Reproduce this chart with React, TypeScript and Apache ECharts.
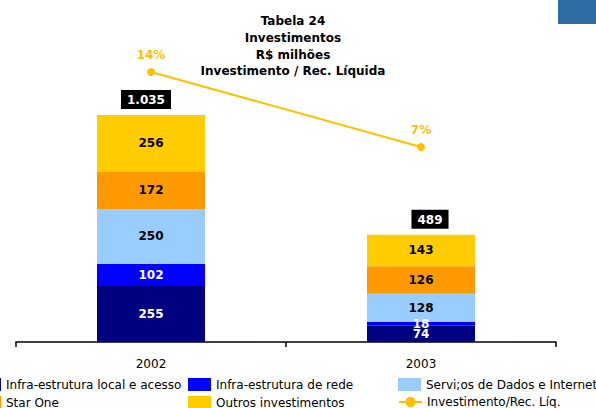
import React, { useEffect, useRef } from "react";
import * as echarts from "echarts";

const categories = ["2002", "2003"];
const infraLocal = [255, 74];
const infraRede = [102, 18];
const servicos = [250, 128];
const starOne = [172, 126];
const outros = [256, 143];
const totalLabels = ["1.035", "489"];
const ratio = [14, 7];

const FONT = "DejaVu Sans";

export default function App() {
  const ref = useRef<HTMLDivElement>(null);
  useEffect(() => {
    if (!ref.current) return;
    const chart = echarts.init(ref.current, null, { renderer: "svg" });
    const segLabel = (color: string) => ({
      show: true,
      position: "inside" as const,
      color,
      fontFamily: FONT,
      fontSize: 12,
      fontWeight: "bold" as const,
    });
    const barBase = {
      type: "bar" as const,
      stack: "inv",
      barWidth: 108,
      yAxisIndex: 0,
    };
    const legendItem = (name: string, left: number, top: number) => ({
      left,
      top,
      padding: 0,
      itemWidth: 23,
      itemHeight: 13,
      textStyle: { fontFamily: FONT, fontSize: 12, color: "#000" },
      data: [name],
    });
    chart.setOption({
      animation: false,
      textStyle: { fontFamily: FONT },
      title: {
        text: "Tabela 24\nInvestimentos\nR$ milhões\nInvestimento / Rec. Líquida",
        left: 288,
        top: 8,
        textAlign: "center",
        textStyle: {
          fontFamily: FONT,
          fontSize: 12,
          fontWeight: "bold",
          color: "#000",
          lineHeight: 16.7,
        },
      },
      graphic: [
        {
          type: "rect",
          shape: { x: 558, y: 0, width: 38, height: 24 },
          style: { fill: "#2E6DA4" },
        },
      ],
      grid: { left: 16, right: 40, top: 35, bottom: 66 },
      xAxis: {
        type: "category",
        data: categories,
        axisLine: { lineStyle: { color: "#000", width: 1.5 } },
        axisTick: { show: true, length: 5, lineStyle: { color: "#000", width: 1.5 } },
        axisLabel: { color: "#000", fontFamily: FONT, fontSize: 12, margin: 16 },
      },
      yAxis: [
        { type: "value", min: 0, max: 1400, show: false, splitLine: { show: false } },
        { type: "value", min: -11.2, max: 17.45, show: false, splitLine: { show: false } },
      ],
      legend: [
        { ...legendItem("Infra-estrutura local e acesso", -22, 378), icon: "rect" },
        { ...legendItem("Star One", -22, 396), icon: "rect" },
        { ...legendItem("Infra-estrutura de rede", 188, 378), icon: "rect" },
        { ...legendItem("Outros investimentos", 188, 396), icon: "rect" },
        { ...legendItem("Servi;os de Dados e Internet", 398, 378), icon: "rect" },
        legendItem("Investimento/Rec. Líq.", 398, 396),
      ],
      series: [
        {
          ...barBase,
          name: "Infra-estrutura local e acesso",
          data: infraLocal,
          itemStyle: { color: "#000080" },
          label: segLabel("#fff"),
        },
        {
          ...barBase,
          name: "Infra-estrutura de rede",
          data: infraRede,
          itemStyle: { color: "#0000FF" },
          label: segLabel("#fff"),
        },
        {
          ...barBase,
          name: "Servi;os de Dados e Internet",
          data: servicos,
          itemStyle: { color: "#99CCFF" },
          label: segLabel("#000"),
        },
        {
          ...barBase,
          name: "Star One",
          data: starOne,
          itemStyle: { color: "#FF9900" },
          label: segLabel("#000"),
        },
        {
          ...barBase,
          name: "Outros investimentos",
          data: outros,
          itemStyle: { color: "#FFCC00" },
          label: segLabel("#000"),
        },
        {
          ...barBase,
          name: "total",
          data: categories.map((_, i) => ({
            value: 0,
            label: { offset: [i === 0 ? -5 : 9, 0] },
          })),
          itemStyle: { color: "transparent" },
          label: {
            show: true,
            position: "top",
            distance: 6,
            formatter: (p: any) => totalLabels[p.dataIndex],
            color: "#fff",
            backgroundColor: "#000",
            padding: [4, 6, 3, 6],
            fontFamily: FONT,
            fontSize: 12,
            fontWeight: "bold",
          },
        },
        {
          type: "line",
          name: "Investimento/Rec. Líq.",
          yAxisIndex: 1,
          data: ratio,
          symbol: "circle",
          symbolSize: 8,
          lineStyle: { color: "#FFC000", width: 2 },
          itemStyle: { color: "#FFC000" },
          label: {
            show: true,
            position: "top",
            distance: 7,
            formatter: "{c}%",
            color: "#FFC000",
            fontFamily: FONT,
            fontSize: 12,
            fontWeight: "bold",
          },
        },
      ],
    });
    return () => chart.dispose();
  }, []);
  return <div ref={ref} style={{ width: 596, height: 408, position: "absolute", left: 0, top: 0 }} />;
}
